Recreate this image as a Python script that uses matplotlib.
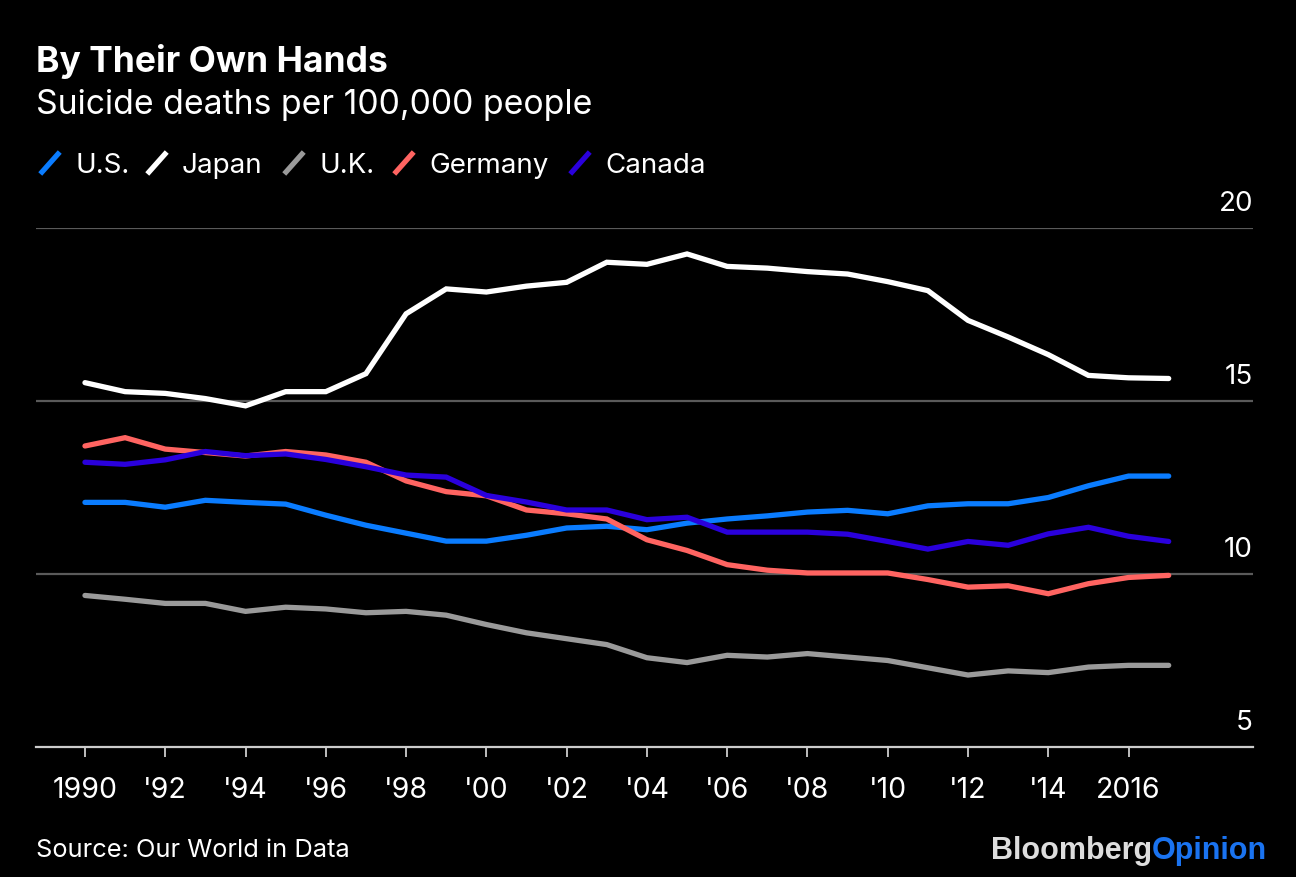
import matplotlib
matplotlib.use('Agg')
import matplotlib.pyplot as plt
from matplotlib.lines import Line2D
from matplotlib.transforms import offset_copy

years = list(range(1990, 2018))

us = [12.07, 12.07, 11.93, 12.13, 12.07, 12.02, 11.70, 11.41, 11.18, 10.95,
      10.95, 11.12, 11.33, 11.38, 11.28, 11.47, 11.59, 11.68, 11.79, 11.84,
      11.74, 11.97, 12.03, 12.03, 12.21, 12.55, 12.83, 12.83]
japan = [15.53, 15.27, 15.22, 15.07, 14.86, 15.27, 15.27, 15.79, 17.52, 18.24,
         18.15, 18.32, 18.43, 19.01, 18.95, 19.25, 18.89, 18.84, 18.74, 18.67,
         18.45, 18.19, 17.33, 16.85, 16.34, 15.74, 15.67, 15.65]
uk = [9.38, 9.27, 9.15, 9.15, 8.92, 9.04, 8.99, 8.88, 8.92, 8.81,
      8.54, 8.30, 8.13, 7.96, 7.58, 7.44, 7.65, 7.60, 7.70, 7.60,
      7.50, 7.29, 7.08, 7.20, 7.15, 7.31, 7.36, 7.36]
germany = [13.70, 13.94, 13.61, 13.51, 13.41, 13.54, 13.44, 13.23, 12.69, 12.38,
           12.26, 11.85, 11.74, 11.59, 10.99, 10.68, 10.27, 10.11, 10.03, 10.03,
           10.03, 9.84, 9.62, 9.66, 9.43, 9.72, 9.90, 9.96]
canada = [13.23, 13.17, 13.30, 13.54, 13.42, 13.47, 13.31, 13.10, 12.86, 12.80,
          12.27, 12.08, 11.85, 11.85, 11.57, 11.64, 11.21, 11.21, 11.21, 11.15,
          10.94, 10.72, 10.94, 10.83, 11.16, 11.35, 11.09, 10.94]

names = ['U.S.', 'Japan', 'U.K.', 'Germany', 'Canada']
series = [us, japan, uk, germany, canada]
colors = ['#0a7cff', '#ffffff', '#9a9a9a', '#ff6461', '#2a00dc']

xticks = list(range(1990, 2017, 2))
xlabels = ['1990'] + ["'%02d" % (y % 100) for y in xticks[1:-1]] + ['2016']
yticks = [5, 10, 15, 20]

plt.rcParams['font.family'] = ['Inter', 'Liberation Sans', 'DejaVu Sans']

W, H = 1296, 878
fig = plt.figure(figsize=(12.96, 8.78), dpi=100, facecolor='black')
ax = fig.add_axes([36 / W, 1 - 748 / H, (1253 - 36) / W, (748 - 229) / H])
ax.set_facecolor('black')

for v in yticks[1:]:
    ax.axhline(v, color='#5a5a5a', lw=1.6, zorder=1)

for s, c in zip(series, colors):
    ax.plot(years, s, color=c, lw=3.8, solid_capstyle='round', solid_joinstyle='miter', zorder=3)

ax.set_xlim(1988.78, 2019.1)
ax.set_ylim(5, 20)
for sp in ['top', 'left', 'right']:
    ax.spines[sp].set_visible(False)
ax.spines['bottom'].set_color('#cccccc')
ax.spines['bottom'].set_linewidth(1.6)
ax.set_xticks(xticks)
ax.set_xticklabels(xlabels)
ax.tick_params(axis='x', colors='#cccccc', length=7, width=1.3, pad=14, labelsize=20.5, labelcolor='white')
ax.set_yticks([])

tr = offset_copy(ax.get_yaxis_transform(), fig=fig, x=0, y=13, units='points')
for v in yticks:
    ax.text(1.0, v, str(v), transform=tr, ha='right', va='baseline', color='white', fontsize=20)

fig.text(36 / W, 1 - 72 / H, 'By Their Own Hands', color='white', fontsize=25.5, fontweight='bold')
fig.text(36 / W, 1 - 114 / H, 'Suicide deaths per 100,000 people', color='white', fontsize=24.3)

# legend with slanted line markers
txt_x = [75, 182, 319, 429, 605]
for tx, n, c in zip(txt_x, names, colors):
    fig.add_artist(Line2D([(tx - 33) / W, (tx - 17) / W], [1 - 173 / H, 1 - 155 / H],
                          color=c, lw=3.8, transform=fig.transFigure))
    fig.text(tx / W, 1 - 173 / H, n, color='white', fontsize=20)

fig.text(36 / W, 1 - 857 / H, 'Source: Our World in Data', color='white', fontsize=18.3)
t = fig.text(1267 / W, 1 - 859 / H, 'Opinion', color='#1a73f0', fontsize=22,
             fontweight='bold', ha='right', family=['Liberation Sans', 'DejaVu Sans'])
fig.canvas.draw()
bb = t.get_window_extent()
fig.text(bb.x0 / W, 1 - 859 / H, 'Bloomberg', color='#dddddd', fontsize=22,
         fontweight='bold', ha='right', family=['Liberation Sans', 'DejaVu Sans'])

fig.savefig('out.png', dpi=100, facecolor='black')
